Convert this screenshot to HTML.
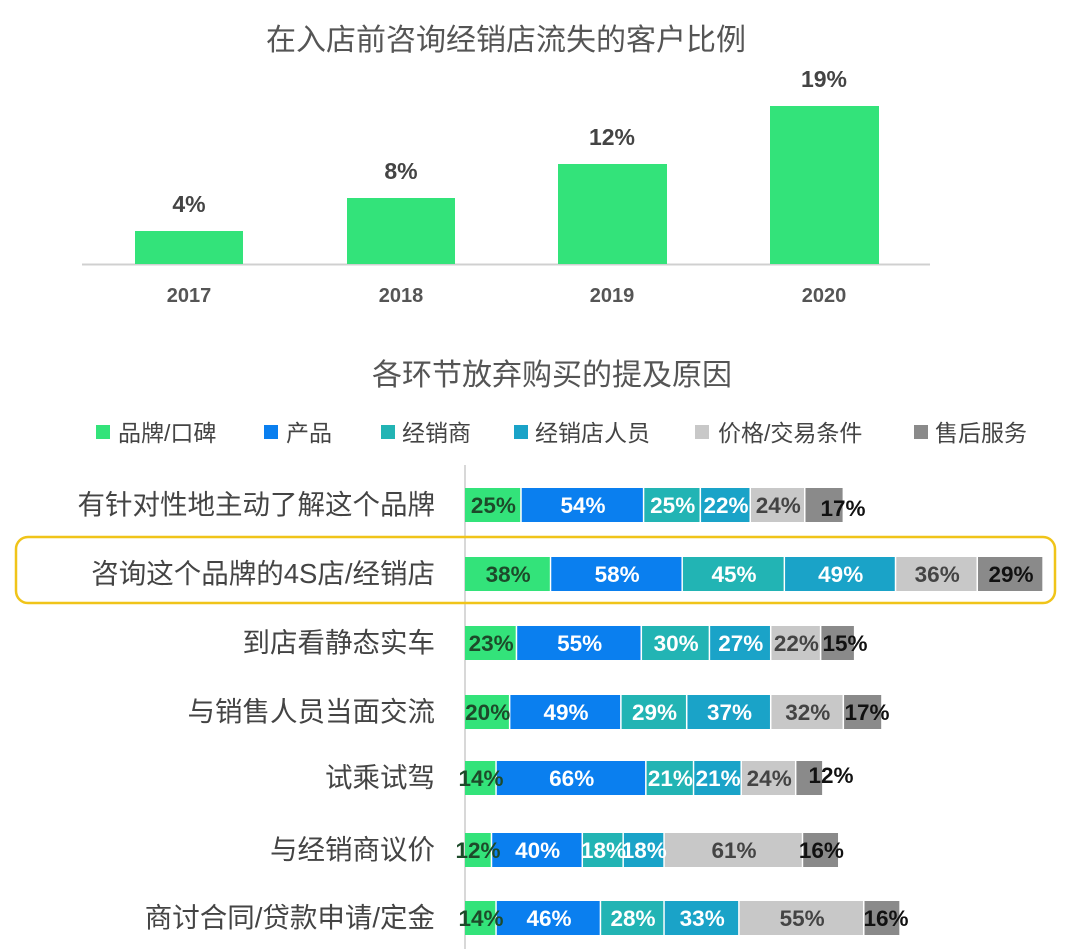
<!DOCTYPE html>
<html><head><meta charset="utf-8"><style>body{margin:0;background:#fff}svg{display:block}</style></head><body>
<svg width="1080" height="949" xmlns="http://www.w3.org/2000/svg" font-family="Liberation Sans, Noto Sans CJK SC, sans-serif">
<text x="506" y="50" font-size="30" fill="#555" text-anchor="middle">在入店前咨询经销店流失的客户比例</text>
<line x1="82" y1="264.5" x2="930" y2="264.5" stroke="#d0d0d0" stroke-width="2"/>
<g fill="#33e37a">
<rect x="135" y="231" width="108" height="33"/>
<rect x="347" y="198" width="108" height="66"/>
<rect x="558" y="164" width="109" height="100"/>
<rect x="770" y="106" width="109" height="158"/>
</g>
<g font-size="23" font-weight="bold" fill="#444" text-anchor="middle">
<text x="189" y="212">4%</text><text x="401" y="179">8%</text><text x="612" y="145">12%</text><text x="824" y="87">19%</text>
</g>
<g font-size="20" font-weight="bold" fill="#555" text-anchor="middle">
<text x="189" y="302">2017</text><text x="401" y="302">2018</text><text x="612" y="302">2019</text><text x="824" y="302">2020</text>
</g>
<text x="552" y="385" font-size="30" fill="#555" text-anchor="middle">各环节放弃购买的提及原因</text>
<g font-size="23" fill="#444">
<rect x="96" y="425" width="14" height="14" fill="#33e37a"/><text x="118" y="441">品牌/口碑</text>
<rect x="264" y="425" width="14" height="14" fill="#0a7fef"/><text x="286" y="441">产品</text>
<rect x="381" y="425" width="14" height="14" fill="#22b4b4"/><text x="402" y="441">经销商</text>
<rect x="514" y="425" width="14" height="14" fill="#1aa3c8"/><text x="535" y="441">经销店人员</text>
<rect x="695" y="425" width="14" height="14" fill="#c8c8c8"/><text x="718" y="441">价格/交易条件</text>
<rect x="914" y="425" width="14" height="14" fill="#8a8a8a"/><text x="935" y="441">售后服务</text>
</g>
<line x1="465" y1="465" x2="465" y2="949" stroke="#ccc" stroke-width="1.5"/>
<rect x="16" y="537" width="1039" height="66" rx="12" fill="none" stroke="#f0c419" stroke-width="2.5"/>
<g font-size="27.5" fill="#444" text-anchor="end">
<text x="435" y="514">有针对性地主动了解这个品牌</text>
<text x="435" y="583">咨询这个品牌的4S店/经销店</text>
<text x="435" y="652">到店看静态实车</text>
<text x="435" y="721">与销售人员当面交流</text>
<text x="435" y="787">试乘试驾</text>
<text x="435" y="859">与经销商议价</text>
<text x="435" y="927">商讨合同/贷款申请/定金</text>
</g>
<g font-size="22.5" font-weight="bold" text-anchor="middle">
<rect x="465" y="488" width="55.2" height="34" fill="#33e37a"/><rect x="521.75" y="488" width="121.1" height="34" fill="#0a7fef"/><rect x="644.33" y="488" width="55.2" height="34" fill="#22b4b4"/><rect x="701.08" y="488" width="48.4" height="34" fill="#1aa3c8"/><rect x="751.02" y="488" width="53" height="34" fill="#c8c8c8"/><rect x="805.5" y="488" width="37.1" height="34" fill="#8a8a8a"/>
<text x="493.4" y="513" fill="#1d4a2a">25%</text><text x="583" y="513" fill="#fff">54%</text><text x="672.7" y="513" fill="#fff">25%</text><text x="726" y="513" fill="#fff">22%</text><text x="778.3" y="513" fill="#444">24%</text><text x="843" y="516" fill="#111">17%</text>
<rect x="465" y="557" width="84.8" height="34" fill="#33e37a"/><rect x="551.26" y="557" width="130.2" height="34" fill="#0a7fef"/><rect x="682.92" y="557" width="100.7" height="34" fill="#22b4b4"/><rect x="785.07" y="557" width="109.7" height="34" fill="#1aa3c8"/><rect x="896.3" y="557" width="80.2" height="34" fill="#c8c8c8"/><rect x="978.02" y="557" width="64.3" height="34" fill="#8a8a8a"/>
<text x="508.1" y="582" fill="#1d4a2a">38%</text><text x="617.1" y="582" fill="#fff">58%</text><text x="734" y="582" fill="#fff">45%</text><text x="840.7" y="582" fill="#fff">49%</text><text x="937.2" y="582" fill="#444">36%</text><text x="1011" y="582" fill="#111">29%</text>
<rect x="465" y="626" width="50.7" height="34" fill="#33e37a"/><rect x="517.21" y="626" width="123.3" height="34" fill="#0a7fef"/><rect x="642.06" y="626" width="66.6" height="34" fill="#22b4b4"/><rect x="710.16" y="626" width="59.8" height="34" fill="#1aa3c8"/><rect x="771.45" y="626" width="48.4" height="34" fill="#c8c8c8"/><rect x="821.39" y="626" width="32.5" height="34" fill="#8a8a8a"/>
<text x="491.1" y="651" fill="#1d4a2a">23%</text><text x="579.6" y="651" fill="#fff">55%</text><text x="676.1" y="651" fill="#fff">30%</text><text x="740.8" y="651" fill="#fff">27%</text><text x="796.4" y="651" fill="#444">22%</text><text x="845" y="651" fill="#111">15%</text>
<rect x="465" y="695" width="43.9" height="34" fill="#33e37a"/><rect x="510.4" y="695" width="109.7" height="34" fill="#0a7fef"/><rect x="621.63" y="695" width="64.3" height="34" fill="#22b4b4"/><rect x="687.46" y="695" width="82.5" height="34" fill="#1aa3c8"/><rect x="771.45" y="695" width="71.1" height="34" fill="#c8c8c8"/><rect x="844.09" y="695" width="37.1" height="34" fill="#8a8a8a"/>
<text x="487.7" y="720" fill="#1d4a2a">20%</text><text x="566" y="720" fill="#fff">49%</text><text x="654.5" y="720" fill="#fff">29%</text><text x="729.5" y="720" fill="#fff">37%</text><text x="807.8" y="720" fill="#444">32%</text><text x="867" y="720" fill="#111">17%</text>
<rect x="465" y="761" width="30.3" height="34" fill="#33e37a"/><rect x="496.78" y="761" width="148.3" height="34" fill="#0a7fef"/><rect x="646.6" y="761" width="46.2" height="34" fill="#22b4b4"/><rect x="694.27" y="761" width="46.2" height="34" fill="#1aa3c8"/><rect x="741.94" y="761" width="53" height="34" fill="#c8c8c8"/><rect x="796.42" y="761" width="25.7" height="34" fill="#8a8a8a"/>
<text x="481" y="786" fill="#1d4a2a">14%</text><text x="571.7" y="786" fill="#fff">66%</text><text x="670.4" y="786" fill="#fff">21%</text><text x="718.1" y="786" fill="#fff">21%</text><text x="769.2" y="786" fill="#444">24%</text><text x="831" y="783" fill="#111">12%</text>
<rect x="465" y="833" width="25.7" height="34" fill="#33e37a"/><rect x="492.24" y="833" width="89.3" height="34" fill="#0a7fef"/><rect x="583.04" y="833" width="39.4" height="34" fill="#22b4b4"/><rect x="623.9" y="833" width="39.4" height="34" fill="#1aa3c8"/><rect x="664.76" y="833" width="137" height="34" fill="#c8c8c8"/><rect x="803.23" y="833" width="34.8" height="34" fill="#8a8a8a"/>
<text x="478" y="858" fill="#1d4a2a">12%</text><text x="537.6" y="858" fill="#fff">40%</text><text x="603.5" y="858" fill="#fff">18%</text><text x="644.3" y="858" fill="#fff">18%</text><text x="734" y="858" fill="#444">61%</text><text x="821.4" y="858" fill="#111">16%</text>
<rect x="465" y="901" width="30.3" height="34" fill="#33e37a"/><rect x="496.78" y="901" width="102.9" height="34" fill="#0a7fef"/><rect x="601.2" y="901" width="62.1" height="34" fill="#22b4b4"/><rect x="664.76" y="901" width="73.4" height="34" fill="#1aa3c8"/><rect x="739.67" y="901" width="123.3" height="34" fill="#c8c8c8"/><rect x="864.52" y="901" width="34.8" height="34" fill="#8a8a8a"/>
<text x="481" y="926" fill="#1d4a2a">14%</text><text x="549" y="926" fill="#fff">46%</text><text x="633" y="926" fill="#fff">28%</text><text x="702.2" y="926" fill="#fff">33%</text><text x="802.1" y="926" fill="#444">55%</text><text x="886" y="926" fill="#111">16%</text>
</g>
</svg>
</body></html>
